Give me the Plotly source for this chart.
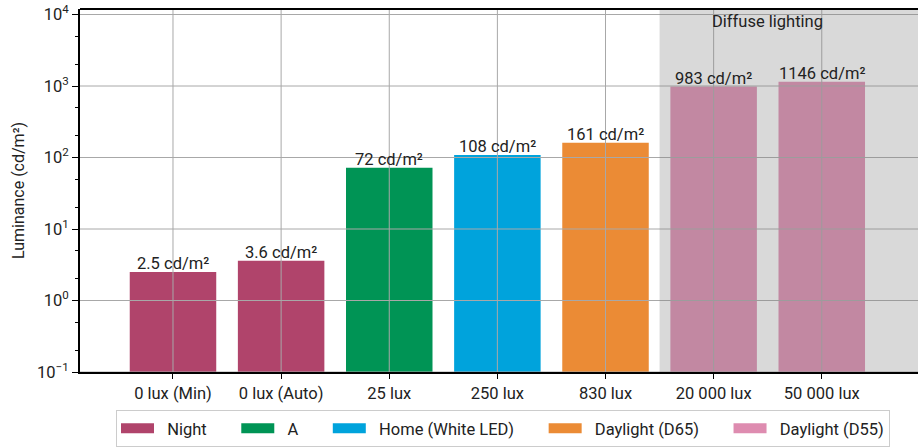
import math
import plotly.graph_objects as go

categories = ["0 lux (Min)", "0 lux (Auto)", "25 lux", "250 lux", "830 lux", "20 000 lux", "50 000 lux"]
luminance = [2.5, 3.6, 72, 108, 161, 983, 1146]
groups = ["Night", "Night", "A", "Home (White LED)", "Daylight (D65)", "Daylight (D55)", "Daylight (D55)"]
group_order = ["Night", "A", "Home (White LED)", "Daylight (D65)", "Daylight (D55)"]
group_colors = {
    "Night": "#B0446B",
    "A": "#009455",
    "Home (White LED)": "#00A3DC",
    "Daylight (D65)": "#EB8B35",
    "Daylight (D55)": "#DE8CB0",
}
ytick_vals = [0.1, 1, 10, 100, 1000, 10000]
ytick_text = ["10<sup>−1</sup>", "10<sup>0</sup>", "10<sup>1</sup>", "10<sup>2</sup>", "10<sup>3</sup>", "10<sup>4</sup>"]
diffuse_label = "Diffuse lighting"

FS = 16.5
GRID = "#A8A8A8"
NB = "\u00a0"

fig = go.Figure()
for i, g in enumerate(group_order):
    xs = [c for c, gg in zip(categories, groups) if gg == g]
    ys = [v for v, gg in zip(luminance, groups) if gg == g]
    fig.add_trace(go.Bar(
        x=xs, y=ys, name=g, marker_color=group_colors[g], marker_line_width=0,
        width=0.8, showlegend=False, legendgroup=g,
    ))
    # legend swatch drawn as a thick line sample; spacing kept between entries
    tail = NB * (6 if i < len(group_order) - 1 else 0)
    fig.add_trace(go.Scatter(
        x=[None], y=[None], mode="lines", name=NB * 2 + g + tail, legendgroup=g,
        line=dict(color=group_colors[g], width=11),
    ))

# value labels sitting just above each bar
for c, v in zip(categories, luminance):
    fig.add_annotation(x=c, y=math.log10(v), xref="x", yref="y", text=f"{v:g} cd/m²",
                       showarrow=False, yanchor="bottom", yshift=-3,
                       font=dict(size=FS, color="#222"))

# grid drawn over the bars
for c in categories:
    fig.add_shape(type="line", xref="x", yref="paper", x0=c, x1=c, y0=0, y1=1,
                  line=dict(color=GRID, width=1), layer="above")
for v in ytick_vals:
    fig.add_shape(type="line", xref="paper", yref="y", x0=0, x1=1, y0=v, y1=v,
                  line=dict(color=GRID, width=1), layer="above")

# shaded band over the diffuse-lighting conditions
fig.add_shape(type="rect", xref="x", yref="paper", x0=4.5, x1=7.5, y0=0, y1=1,
              fillcolor="rgba(128,128,128,0.3)", line_width=0, layer="above")
fig.add_annotation(x=5.5, y=1, xref="x", yref="paper", text=diffuse_label,
                   showarrow=False, yanchor="top", yshift=-1, font=dict(size=FS, color="#222"))

fig.update_layout(
    width=918, height=448,
    margin=dict(l=80, r=0, t=9, b=76),
    plot_bgcolor="white", paper_bgcolor="white",
    font=dict(family="Roboto", size=FS, color="#222"),
    barmode="overlay",
    showlegend=True,
    legend=dict(orientation="h", x=503 / 918, xanchor="center", xref="container",
                y=0.002, yanchor="bottom", yref="container",
                bordercolor="#CCCCCC", borderwidth=1, font=dict(size=FS),
                itemwidth=33, tracegroupgap=0),
)
fig.update_xaxes(
    categoryorder="array", categoryarray=categories,
    range=[-0.86, 6.89],
    showline=True, linecolor="black", linewidth=2,
    ticks="outside", ticklen=5, tickcolor="black",
    showgrid=False, layer="above traces", tickfont=dict(size=FS),
)
fig.update_yaxes(
    type="log", range=[-1, 4.077],
    tickvals=ytick_vals, ticktext=ytick_text,
    showline=True, linecolor="black", linewidth=2,
    ticks="outside", ticklen=6, tickcolor="black",
    minor=dict(ticks="outside", ticklen=3.5, tickcolor="black", showgrid=False),
    showgrid=False, layer="above traces",
    title=dict(text="Luminance (cd/m²)", font=dict(size=16), standoff=8),
    tickfont=dict(size=FS),
)
# top frame line
fig.add_shape(type="line", xref="paper", yref="paper", x0=0, x1=1, y0=1, y1=1,
              line=dict(color="black", width=2), layer="above")

fig.write_html("out.html")
